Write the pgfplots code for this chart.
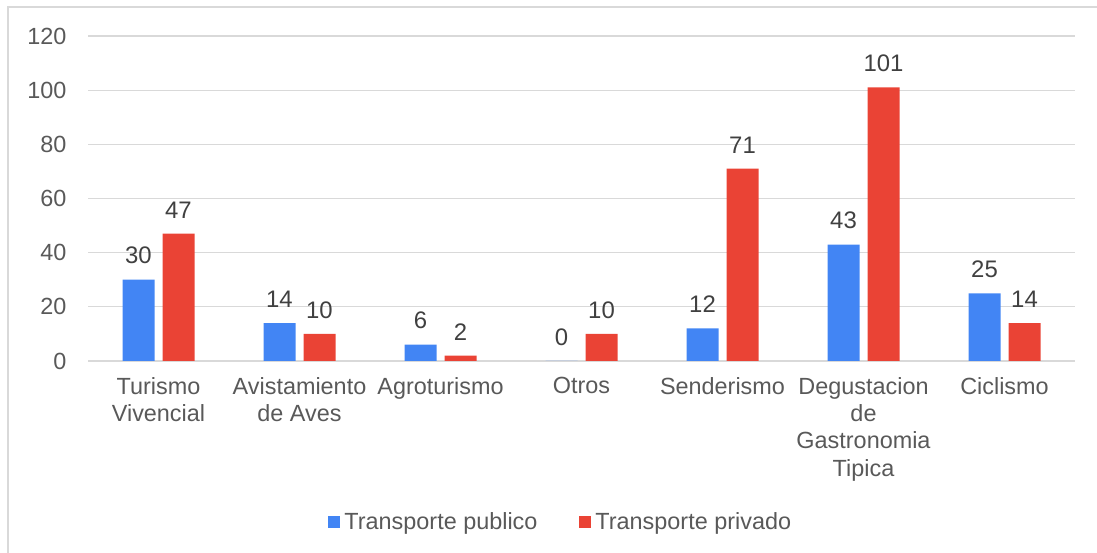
\documentclass[border=0pt]{standalone}
\usepackage{fontspec}
\setmainfont{Liberation Sans}
\usepackage{pgfplots}
\pgfplotsset{compat=1.18}

\definecolor{pubblue}{HTML}{4285F4}
\definecolor{privred}{HTML}{EA4335}
\definecolor{txtgray}{HTML}{595959}
\definecolor{lblgray}{HTML}{404040}
\definecolor{gridgray}{HTML}{D9D9D9}

\begin{document}
\begin{tikzpicture}
\useasboundingbox (0,0) rectangle (1097bp,553bp);
% chart frame (cut at right and bottom in the reference)
\draw[gridgray, line width=1.2bp] (8bp,0) -- (8bp,546bp) -- (1097bp,546bp);

\begin{axis}[
    at={(88bp,192bp)}, anchor=south west,
    scale only axis,
    width=987bp, height=325bp,
    ybar=8bp, bar width=32bp,
    xmin=-0.5, xmax=6.5,
    ymin=0, ymax=120,
    ytick={0,20,...,120},
    xtick=data,
    xticklabels={Turismo\\Vivencial, Avistamiento\\de Aves, Agroturismo, Otros,
        Senderismo, Degustacion\\de\\Gastronomia\\Tipica, Ciclismo},
    xticklabel style={align=center, font=\fontsize{23.5}{27.3}\selectfont, text=txtgray, yshift=-13bp},
    yticklabel style={font=\fontsize{23.5}{27}\selectfont, text=txtgray, xshift=-18bp},
    /pgf/number format/assume math mode=true,
    axis line style={draw=none},
    major tick length=0pt,
    ymajorgrids, grid style={gridgray, line width=1.2bp},
    nodes near coords,
    every node near coord/.append style={font=\fontsize{24}{27}\selectfont, text=lblgray, yshift=12bp},
    legend columns=2,
    legend style={at={(0.479,-0.495)}, anchor=center, draw=none, fill=none,
        font=\fontsize{23.5}{27}\selectfont, text=txtgray,
        /tikz/every odd column/.append style={column sep=2bp},
        /tikz/every even column/.append style={column sep=40bp}},
    legend image code/.code={\fill[#1] (0bp,-6bp) rectangle (12bp,6bp);},
]
\addplot[fill=pubblue, draw=none] coordinates {(0,30) (1,14) (2,6) (3,0) (4,12) (5,43) (6,25)};
\addplot[fill=privred, draw=none] coordinates {(0,47) (1,10) (2,2) (3,10) (4,71) (5,101) (6,14)};
\legend{Transporte publico, Transporte privado}
\end{axis}
\end{tikzpicture}
\end{document}
